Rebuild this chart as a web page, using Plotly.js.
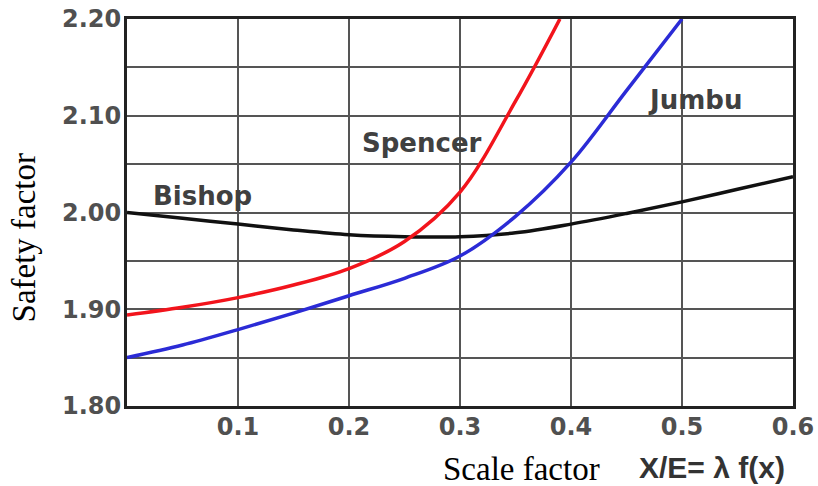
<!DOCTYPE html>
<html>
<head>
<meta charset="utf-8">
<script src="https://cdn.plot.ly/plotly-3.0.1.min.js"></script>
<style>html,body{margin:0;padding:0;background:#fff;}#chart{width:818px;height:486px;}</style>
</head>
<body>
<div id="chart"></div>
<script>
// Bishop
const bishopX = [0, 0.05, 0.1, 0.15, 0.2, 0.25, 0.3, 0.35, 0.4, 0.45, 0.5, 0.55, 0.6];
const bishopY = [2.000, 1.994, 1.988, 1.982, 1.977, 1.975, 1.975, 1.979, 1.988, 1.999, 2.011, 2.024, 2.037];
// Spencer
const spencerX = [0, 0.05, 0.1, 0.15, 0.2, 0.25, 0.3, 0.35, 0.39];
const spencerY = [1.894, 1.902, 1.912, 1.925, 1.942, 1.970, 2.021, 2.115, 2.200];
// Jumbu
const jumbuX = [0, 0.05, 0.1, 0.15, 0.2, 0.25, 0.3, 0.35, 0.4, 0.45, 0.5];
const jumbuY = [1.850, 1.863, 1.879, 1.896, 1.914, 1.932, 1.955, 1.996, 2.052, 2.126, 2.200];

const xTickVals = [0.1, 0.2, 0.3, 0.4, 0.5, 0.6];
const xTickText = ["0.1", "0.2", "0.3", "0.4", "0.5", "0.6"];
const yTickVals = [1.80, 1.90, 2.00, 2.10, 2.20];
const yTickText = ["1.80", "1.90", "2.00", "2.10", "2.20"];

const seriesNames = ["Bishop", "Spencer", "Jumbu"];

const tickFont = {family: "DejaVu Sans", size: 24, color: "#505050", weight: "bold"};
const labelFont = {family: "DejaVu Sans", size: 26, color: "#404040", weight: "bold"};
const serifFont = {family: "Liberation Serif, Times New Roman, serif", size: 33, color: "#000"};

const traces = [
  {x: bishopX, y: bishopY, name: seriesNames[0], mode: "lines", line: {color: "#111", width: 3.5, shape: "spline", smoothing: 1}},
  {x: spencerX, y: spencerY, name: seriesNames[1], mode: "lines", line: {color: "#f2141c", width: 3.5, shape: "spline", smoothing: 1}},
  {x: jumbuX, y: jumbuY, name: seriesNames[2], mode: "lines", line: {color: "#2b2bd6", width: 3.5, shape: "spline", smoothing: 1}}
];

const layout = {
  width: 818, height: 486,
  margin: {l: 127, r: 25, t: 19, b: 80},
  paper_bgcolor: "#fff", plot_bgcolor: "#fff",
  showlegend: false,
  xaxis: {
    range: [0, 0.6], tickvals: xTickVals, ticktext: xTickText,
    showgrid: true, gridcolor: "#555", gridwidth: 2,
    zeroline: false, showline: true, linecolor: "#222", linewidth: 3, mirror: true,
    ticks: "", ticklabelstandoff: -3, tickfont: tickFont
  },
  yaxis: {
    range: [1.80, 2.20], tickvals: yTickVals, ticktext: yTickText,
    showgrid: true, gridcolor: "#555", gridwidth: 2,
    minor: {dtick: 0.05, showgrid: true, gridcolor: "#555", gridwidth: 2, ticks: ""},
    zeroline: false, showline: true, linecolor: "#222", linewidth: 3, mirror: true,
    ticks: "", ticklabelstandoff: -2, tickfont: tickFont
  },
  annotations: [
    {x: 0.0676, y: 2.017, xref: "x", yref: "y", xanchor: "center", yanchor: "middle", text: seriesNames[0], showarrow: false, font: labelFont},
    {x: 0.266, y: 2.072, xref: "x", yref: "y", xanchor: "center", yanchor: "middle", text: seriesNames[1], showarrow: false, font: labelFont},
    {x: 0.512, y: 2.116, xref: "x", yref: "y", xanchor: "center", yanchor: "middle", text: seriesNames[2], showarrow: false, font: labelFont},
    {x: -0.1547, y: 0.4354, xref: "paper", yref: "paper", xanchor: "center", yanchor: "middle", text: "Safety factor", textangle: -90, showarrow: false, font: serifFont},
    {x: 0.592, y: -0.163, xref: "paper", yref: "paper", xanchor: "center", yanchor: "middle", text: "Scale factor", showarrow: false, font: serifFont},
    {x: 0.879, y: -0.160, xref: "paper", yref: "paper", xanchor: "center", yanchor: "middle", text: "X/E= λ f(x)", showarrow: false, font: {family: "Liberation Sans, Arial, sans-serif", size: 30, color: "#333", weight: "bold"}}
  ]
};

Plotly.newPlot("chart", traces, layout, {displayModeBar: false, staticPlot: true});
</script>
</body>
</html>
